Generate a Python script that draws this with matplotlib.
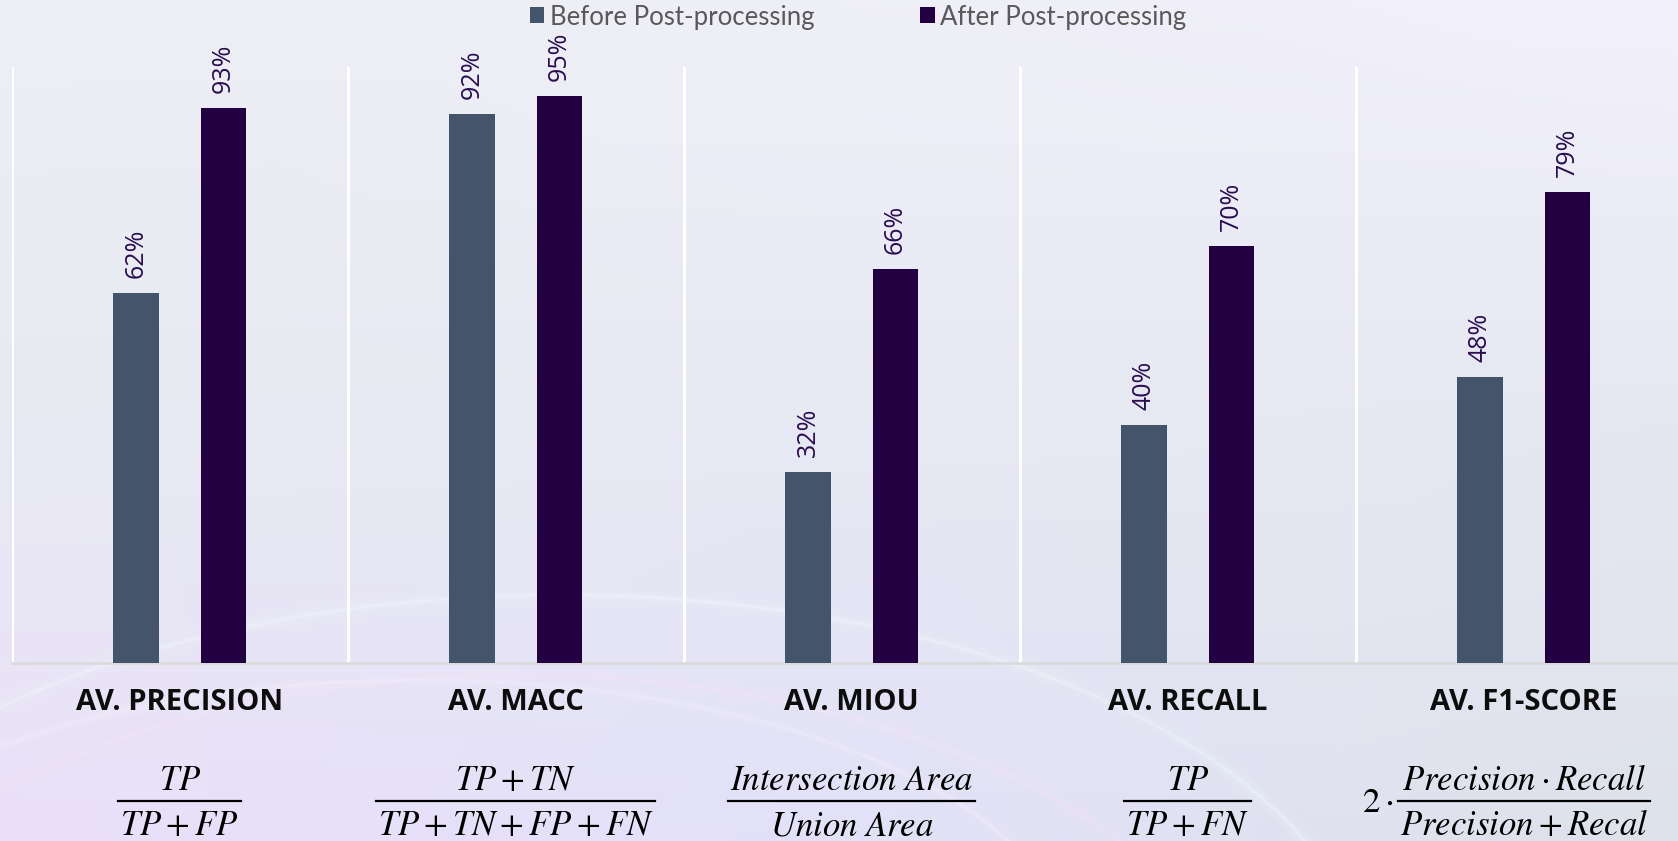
import numpy as np
import matplotlib
matplotlib.use('Agg')
import matplotlib.pyplot as plt
from matplotlib.patches import Ellipse
from matplotlib.lines import Line2D
from matplotlib.transforms import blended_transform_factory

# ---------------- data ----------------
categories = ['AV. PRECISION', 'AV. MACC', 'AV. MIOU', 'AV. RECALL', 'AV. F1-SCORE']
before = [0.62, 0.92, 0.32, 0.40, 0.48]
after = [0.93, 0.95, 0.66, 0.70, 0.79]
series_names = ['Before Post-processing', 'After Post-processing']
numerators = [r'$TP$', r'$TP+TN$', r'$Intersection\ Area$', r'$TP$', r'$Precision\cdot Recall$']
denominators = [r'$TP+FP$', r'$TP+TN+FP+FN$', r'$Union\ Area$', r'$TP+FN$', r'$Precision+Recal$']
prefixes = ['', '', '', '', r'$2\cdot$']

# ---------------- figure ----------------
W, H = 1678, 841
DPI = 100
plt.rcParams['mathtext.fontset'] = 'stix'
fig = plt.figure(figsize=(W / DPI, H / DPI), dpi=DPI)

# background gradient
grid = np.array([
    [[237, 239, 244], [239, 239, 247], [242, 240, 252]],
    [[232, 234, 242], [231, 233, 243], [230, 232, 241]],
    [[234, 224, 249], [226, 225, 248], [222, 226, 234]],
], dtype=float) / 255.0
ny, nx = 120, 240
xs = np.linspace(0, 1, nx)
ys = np.linspace(0, 1, ny)
img = np.zeros((ny, nx, 3))
for ch in range(3):
    rows = np.array([np.interp(xs, [0, 0.5, 1], grid[r, :, ch]) for r in range(3)])
    for j in range(nx):
        img[:, j, ch] = np.interp(ys, [0, 0.5, 1], rows[:, j])
bg = fig.add_axes([0, 0, 1, 1], zorder=0)
bg.imshow(img, extent=[0, W, H, 0], aspect='auto', interpolation='bilinear')
bg.set_xlim(0, W)
bg.set_ylim(H, 0)
bg.axis('off')
# faint light streaks
for (cx, cy, ew, eh, col) in [(560, 1000, 1620, 810, '#f4fdff'),
                              (520, 1090, 1500, 830, '#f8e4f6'),
                              (420, 960, 1300, 560, '#f6f2ff')]:
    for lw, a in [(16, 0.05), (9, 0.08), (4, 0.16), (1.5, 0.25)]:
        bg.add_patch(Ellipse((cx, cy), ew, eh, fill=False, edgecolor=col, lw=lw, alpha=a))

# main axes (extends past right edge like the original)
ax_left, ax_bottom_px, cat_w = 11.7, 663.3, 336.0
ax = fig.add_axes([ax_left / W, (H - ax_bottom_px) / H, 5 * cat_w / W, 596.8 / H], zorder=1)
ax.set_facecolor('none')

x = np.arange(len(categories))
off, bw = 0.13, 0.136
b1 = ax.bar(x - off, before, width=bw, color='#44546a', label=series_names[0], zorder=3)
b2 = ax.bar(x + off, after, width=bw, color='#220042', label=series_names[1], zorder=3)

ax.set_xlim(-0.5, len(categories) - 0.5)
ax.set_ylim(0, 1.0)
ax.set_yticks([])
ax.set_xticks(x, categories)
ax.set_xticks(np.arange(-0.5, len(categories), 1), minor=True)
ax.grid(which='minor', axis='x', color='white', lw=2.2, zorder=1)
ax.tick_params(which='both', length=0)
ax.tick_params(axis='x', which='major', pad=18)
for lab in ax.get_xticklabels():
    lab.set_fontfamily('Open Sans')
    lab.set_fontweight('bold')
    lab.set_fontsize(21)
    lab.set_color('#0d0d0d')
for s in ['top', 'left', 'right']:
    ax.spines[s].set_visible(False)
ax.spines['bottom'].set_color('#d9d9d9')
ax.spines['bottom'].set_linewidth(1.8)

# data labels
for cont, vals in [(b1, before), (b2, after)]:
    for rect, v in zip(cont, vals):
        ax.annotate(f'{v:.0%}', (rect.get_x() + rect.get_width() / 2, v),
                    xytext=(0, 15), textcoords='offset pixels', rotation=90,
                    ha='center', va='bottom', fontsize=18, color='#2a0c50',
                    family='Open Sans', zorder=4)

# legend
h, l = ax.get_legend_handles_labels()
fig.legend(h, l, loc='center', bbox_to_anchor=(858 / W, 1 - 17 / H), ncol=2,
           frameon=False, prop={'family': 'Lato', 'size': 18.5}, labelcolor='#595959',
           handlelength=0.58, handleheight=0.58, handletextpad=0.21, columnspacing=4.1)

# formulas under each category
renderer = fig.canvas.get_renderer()
y_num = 1 - 790 / H
y_den = 1 - 835 / H
y_bar = 1 - 800.5 / H
trans = blended_transform_factory(ax.transData, fig.transFigure)
for i in range(len(categories)):
    t1 = ax.text(i, y_num, numerators[i], transform=trans, ha='center', va='baseline',
                 fontsize=25, color='black', clip_on=False)
    t2 = ax.text(i, y_den, denominators[i], transform=trans, ha='center', va='baseline',
                 fontsize=25, color='black', clip_on=False)
    wpx = max(t1.get_window_extent(renderer).width, t2.get_window_extent(renderer).width) + 4
    cx = ax.transData.transform((i, 0))[0]
    fig.add_artist(Line2D([(cx - wpx / 2) / W, (cx + wpx / 2) / W], [y_bar, y_bar],
                          transform=fig.transFigure, color='black', lw=1.6))
    if prefixes[i]:
        fig.text((cx - wpx / 2 - 4) / W, 1 - 812 / H, prefixes[i], ha='right', va='baseline',
                 fontsize=25, color='black')

fig.savefig('out.png', dpi=DPI)
